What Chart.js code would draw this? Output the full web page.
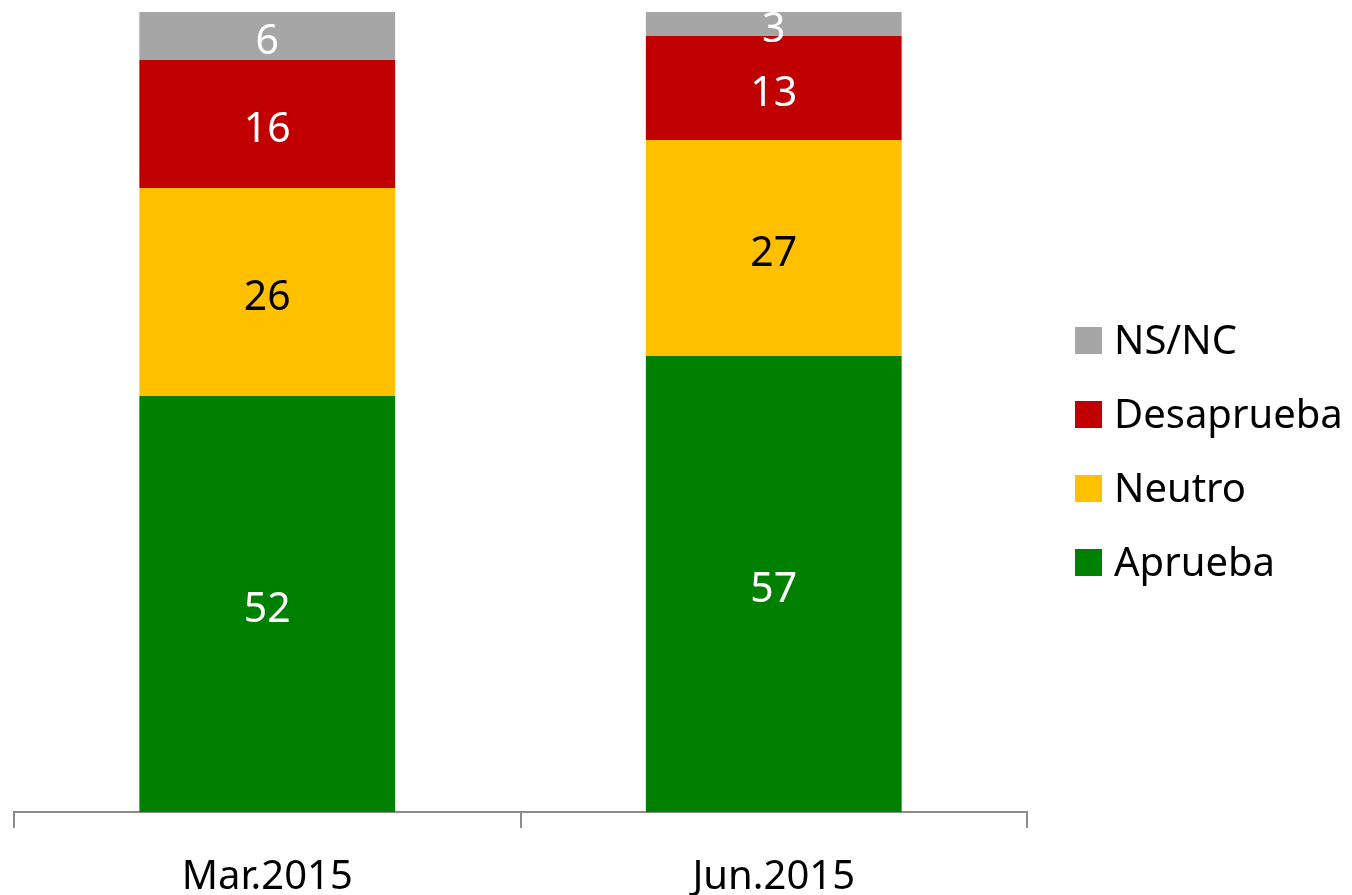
<!DOCTYPE html>
<html>
<head>
<meta charset="utf-8">
<script src="https://cdn.jsdelivr.net/npm/chart.js@4/dist/chart.umd.min.js"></script>
<style>
  html, body { margin: 0; padding: 0; background: #fff; }
  #wrap { width: 1352px; height: 895px; }
</style>
</head>
<body>
<div id="wrap"><canvas id="chart" width="1352" height="895"></canvas></div>
<script>
'use strict';

var periods = ['Mar.2015', 'Jun.2015'];
var aprueba = [52, 57];
var neutro = [26, 27];
var desaprueba = [16, 13];
var nsnc = [6, 3];

var FONT = '"Noto Sans", "Open Sans", sans-serif';

// etiquetas dentro de cada tramo
var barLabels = {
    id: 'barLabels',
    afterDatasetsDraw: function (chart) {
        var ctx = chart.ctx;
        var area = chart.chartArea;
        ctx.save();
        ctx.beginPath();
        ctx.rect(area.left, area.top, area.right - area.left, area.bottom - area.top);
        ctx.clip();
        ctx.font = '41px ' + FONT;
        ctx.textAlign = 'center';
        ctx.textBaseline = 'middle';
        chart.data.datasets.forEach(function (ds, i) {
            var meta = chart.getDatasetMeta(i);
            meta.data.forEach(function (bar, j) {
                ctx.fillStyle = ds.labelColor;
                ctx.fillText(ds.data[j], bar.x, (bar.y + bar.base) / 2 + 6);
            });
        });
        ctx.restore();
    }
};

// leyenda a la derecha, en orden inverso
var sideLegend = {
    id: 'sideLegend',
    afterDraw: function (chart) {
        var ctx = chart.ctx;
        var ds = chart.data.datasets.slice().reverse();
        ctx.save();
        ctx.font = '40px ' + FONT;
        ctx.textBaseline = 'middle';
        ctx.textAlign = 'left';
        ds.forEach(function (d, i) {
            var y = 340 + i * 74;
            ctx.fillStyle = d.backgroundColor;
            ctx.fillRect(1075, y - 13, 27, 27);
            ctx.fillStyle = '#000';
            ctx.fillText(d.label, 1114, y + 3);
        });
        ctx.restore();
    }
};

new Chart(document.getElementById('chart'), {
    type: 'bar',
    data: {
        labels: periods,
        datasets: [
            { label: 'Aprueba', data: aprueba, backgroundColor: '#008000', labelColor: '#fff' },
            { label: 'Neutro', data: neutro, backgroundColor: '#FFC000', labelColor: '#000' },
            { label: 'Desaprueba', data: desaprueba, backgroundColor: '#C00000', labelColor: '#fff' },
            { label: 'NS/NC', data: nsnc, backgroundColor: '#A6A6A6', labelColor: '#fff' }
        ]
    },
    options: {
        responsive: false,
        animation: false,
        layout: { padding: { left: 14, right: 325, top: 12, bottom: 0 } },
        datasets: { bar: { categoryPercentage: 1, barPercentage: 0.505, borderWidth: 0 } },
        plugins: {
            legend: { display: false },
            tooltip: { enabled: false }
        },
        scales: {
            x: {
                stacked: true,
                grid: {
                    offset: true,
                    drawOnChartArea: false,
                    drawTicks: true,
                    tickLength: 16,
                    color: '#8c8c8c',
                    lineWidth: 2
                },
                border: { color: '#8c8c8c', width: 2 },
                ticks: {
                    color: '#000',
                    font: { family: FONT, size: 40 },
                    padding: 26
                },
                afterFit: function (scale) { scale.height = 83; }
            },
            y: {
                stacked: true,
                display: false,
                min: 0,
                max: 100
            }
        }
    },
    plugins: [barLabels, sideLegend]
});
</script>
</body>
</html>
